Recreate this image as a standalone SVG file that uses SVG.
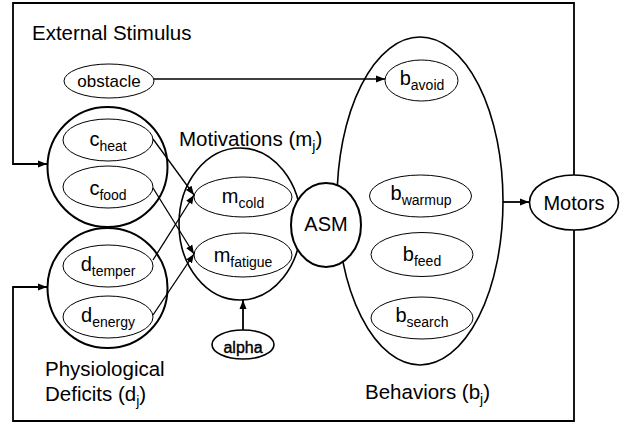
<svg xmlns="http://www.w3.org/2000/svg" width="626" height="423" viewBox="0 0 626 423">
<style>
text{font-family:"Liberation Sans",Arial,sans-serif;fill:#000;font-size:20px}
.h{font-size:20.5px}
.s{font-size:14px}
.m{text-anchor:middle}
.thin{fill:#fff;stroke:#000;stroke-width:1}
.thick{fill:none;stroke:#000;stroke-width:2}
.med{fill:#fff;stroke:#000;stroke-width:1.6}
.con{fill:none;stroke:#000;stroke-width:1.8}
.cl{stroke-width:1.3}
</style>
<defs>
<marker id="ah" markerUnits="userSpaceOnUse" markerWidth="10" markerHeight="8" refX="9" refY="4" orient="auto">
<path d="M0,0.5 L9,4 L0,7.5 z" fill="#000"/>
</marker>
</defs>
<rect width="626" height="423" fill="#fff"/>
<text class="h" x="32" y="40">External Stimulus</text>
<text class="h" x="179" y="146">Motivations (m<tspan class="s" dy="5">j</tspan><tspan dy="-5">)</tspan></text>
<text class="h" x="45" y="376">Physiological</text>
<text class="h" x="45" y="401">Deficits (d<tspan class="s" dy="5">j</tspan><tspan dy="-5">)</tspan></text>
<text class="h" x="365" y="399">Behaviors (b<tspan class="s" dy="5">j</tspan><tspan dy="-5">)</tspan></text>
<g id="behaviors">
<ellipse class="med" cx="420" cy="201" rx="83" ry="164"/>
</g>
<g id="motivations">
<ellipse class="med" cx="240" cy="224" rx="61" ry="76"/>
</g>
<g id="asm">
<ellipse class="thick" cx="326" cy="225" rx="35" ry="42" style="fill:#fff"/>
<text class="m" x="326" y="231">ASM</text>
</g>
<g id="stimulus-group">
<circle class="thick" cx="107.5" cy="167" r="60"/>
</g>
<g id="deficit-group">
<circle class="thick" cx="107.5" cy="288" r="60"/>
</g>
<g id="obstacle">
<ellipse class="thin" cx="109" cy="81" rx="45" ry="17"/>
<text class="m" x="109" y="87" style="font-size:17px">obstacle</text>
</g>
<g id="c_heat">
<ellipse class="thin" cx="108" cy="140" rx="45" ry="21"/>
<text class="m" x="108" y="146">c<tspan class="s" dy="5">heat</tspan></text>
</g>
<g id="c_food">
<ellipse class="thin" cx="108" cy="187" rx="45" ry="21"/>
<text class="m" x="108" y="195">c<tspan class="s" dy="5">food</tspan></text>
</g>
<g id="d_temper">
<ellipse class="thin" cx="108" cy="266" rx="45" ry="21"/>
<text class="m" x="108" y="271">d<tspan class="s" dy="5">temper</tspan></text>
</g>
<g id="d_energy">
<ellipse class="thin" cx="108" cy="317" rx="45" ry="21"/>
<text class="m" x="108" y="322">d<tspan class="s" dy="5">energy</tspan></text>
</g>
<g id="m_cold">
<ellipse class="thin" cx="243" cy="197" rx="49" ry="20"/>
<text class="m" x="243" y="203">m<tspan class="s" dy="5">cold</tspan></text>
</g>
<g id="m_fatigue">
<ellipse class="thin" cx="243" cy="255" rx="49" ry="22"/>
<text class="m" x="243" y="262">m<tspan class="s" dy="5">fatigue</tspan></text>
</g>
<g id="b_avoid">
<ellipse class="thin" cx="421.5" cy="80.5" rx="36.5" ry="20.5"/>
<text class="m" x="422" y="85">b<tspan class="s" dy="5">avoid</tspan></text>
</g>
<g id="b_warmup">
<ellipse class="thin" cx="420.5" cy="196" rx="51" ry="21"/>
<text class="m" x="421" y="200">b<tspan class="s" dy="5">warmup</tspan></text>
</g>
<g id="b_feed">
<ellipse class="thin" cx="422" cy="254.5" rx="51" ry="22"/>
<text class="m" x="422" y="261">b<tspan class="s" dy="5">feed</tspan></text>
</g>
<g id="b_search">
<ellipse class="thin" cx="422" cy="318" rx="51" ry="21"/>
<text class="m" x="422" y="322">b<tspan class="s" dy="5">search</tspan></text>
</g>
<g id="motors">
<ellipse class="med" cx="574" cy="202.5" rx="44.5" ry="27.5"/>
<text class="m" x="574" y="210">Motors</text>
</g>
<g id="alpha">
<ellipse class="med" cx="243" cy="344.5" rx="31" ry="14.5"/>
<text class="m" x="243" y="353" style="font-size:16px;stroke:#000;stroke-width:0.4">alpha</text>
</g>
<g id="connectors">
<path class="con" d="M574,175 V3 H13 V164 H47" marker-end="url(#ah)"/>
<path class="con" d="M574,230 V421 H13 V287 H47" marker-end="url(#ah)"/>
<path class="con cl" d="M154,79 H385" marker-end="url(#ah)"/>
<path class="con cl" d="M153,139 L194,195" marker-end="url(#ah)"/>
<path class="con cl" d="M153,188 L194,254" marker-end="url(#ah)"/>
<path class="con cl" d="M153,260 L194,195" marker-end="url(#ah)"/>
<path class="con cl" d="M153,315 L194,254" marker-end="url(#ah)"/>
<path class="con" d="M503,202 H529" marker-end="url(#ah)"/>
<path class="con" d="M243,330 V300" marker-end="url(#ah)"/>
</g>
</svg>
